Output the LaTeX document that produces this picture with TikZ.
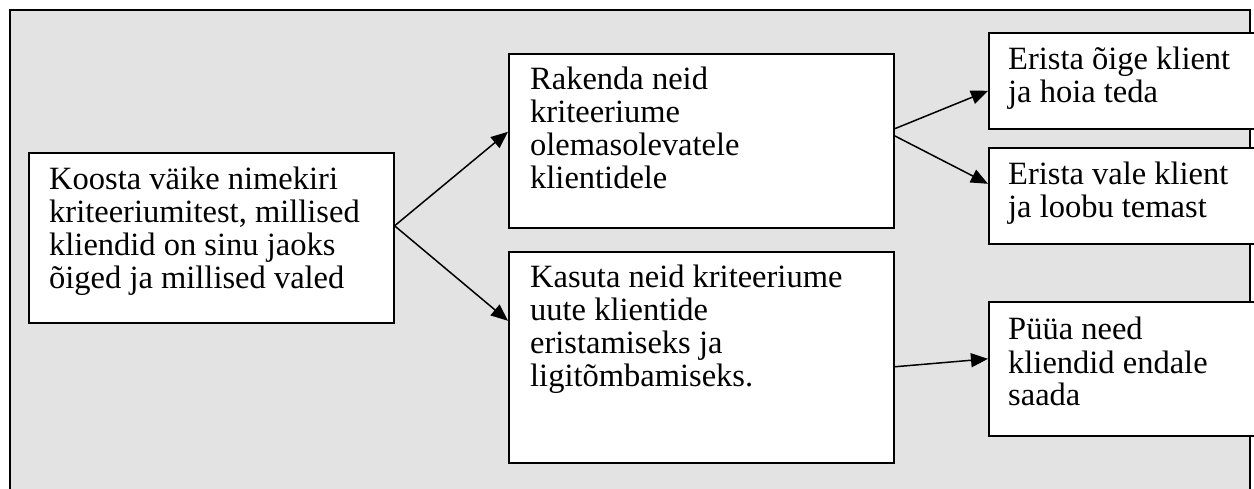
\documentclass[tikz,border=0pt]{standalone}
\usepackage{fontspec}
\setmainfont{Liberation Serif}
\usetikzlibrary{arrows.meta}
\definecolor{panelgray}{RGB}{227,227,227}
\tikzset{
  panel/.style={draw=black, line width=2pt, fill=panelgray},
  stepbox/.style={rectangle, draw=black, line width=1.6pt, fill=white,
    inner sep=0pt, anchor=north west},
  boxtext/.style={anchor=base west, inner sep=0pt,
    font=\fontsize{32.5}{33}\selectfont},
  link/.style={draw=black, line width=1.5pt,
    -{Triangle[length=17pt,width=14pt]}}
}
\newcommand{\lines}[1]{\begin{minipage}[t]{360pt}#1\end{minipage}}
\begin{document}
\begin{tikzpicture}[x=1pt,y=-1pt]
  \useasboundingbox (0,0) rectangle (1254,489);
  \clip (0,0) rectangle (1254,489);
  \fill[white] (0,0) rectangle (1254,489);
  % grey panel behind the chart
  \draw[panel] (10,10) rectangle (1250,540);

  % boxes
  \node[stepbox, minimum width=365pt, minimum height=170pt] (L) at (28,152) {};
  \node[stepbox, minimum width=385pt, minimum height=174pt] (B) at (508,53) {};
  \node[stepbox, minimum width=385pt, minimum height=211pt] (C) at (508,251) {};
  \node[stepbox, minimum width=290pt, minimum height=96pt]  (D) at (988,32) {};
  \node[stepbox, minimum width=290pt, minimum height=96pt]  (E) at (988,147) {};
  \node[stepbox, minimum width=290pt, minimum height=134pt] (F) at (988,301) {};

  % box texts
  \node[boxtext] (Lt) at (49,190) {\lines{Koosta väike nimekiri\\kriteeriumitest, millised\\kliendid on sinu jaoks\\õiged ja millised valed}};
  \node[boxtext] (Bt) at (530,90) {\lines{Rakenda neid\\kriteeriume\\olemasolevatele\\klientidele}};
  \node[boxtext] (Ct) at (530,288) {\lines{Kasuta neid kriteeriume\\uute klientide\\eristamiseks ja\\ligitõmbamiseks.}};
  \node[boxtext] (Dt) at (1008,70) {\lines{Erista õige klient\\ja hoia teda}};
  \node[boxtext] (Et) at (1008,185) {\lines{Erista vale klient\\ja loobu temast}};
  \node[boxtext] (Ft) at (1008,340) {\lines{Püüa need\\kliendid endale\\saada}};

  % connectors
  \draw[link] ([yshift=12pt]L.east) -- ([yshift=9pt]B.west);
  \draw[link] ([yshift=12pt]L.east) -- ([yshift=36.5pt]C.west);
  \draw[link] ([yshift=12pt]B.east) -- ([yshift=-10pt]D.west);
  \draw[link] ([yshift=5pt]B.east) -- ([yshift=12pt]E.west);
  \draw[link] ([yshift=-9.5pt]C.east) -- ([yshift=10pt]F.west);
\end{tikzpicture}
\end{document}
